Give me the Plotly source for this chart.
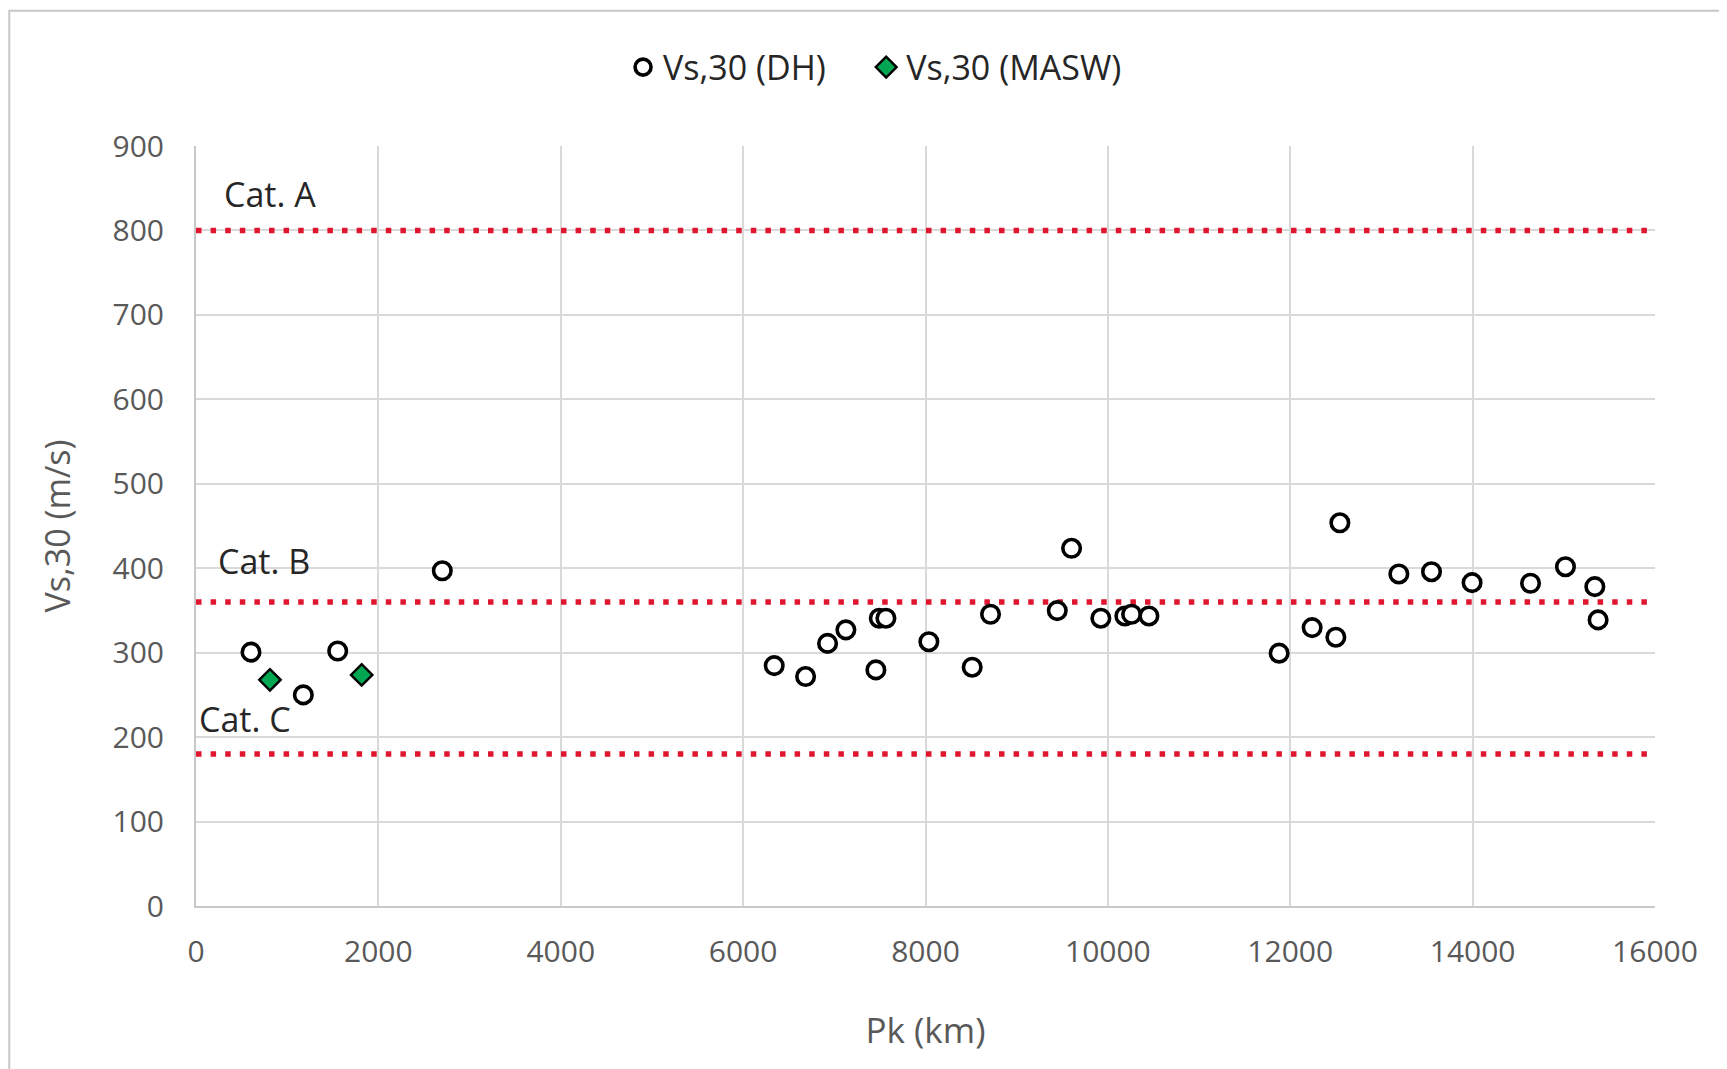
import plotly.graph_objects as go

# ---- data ----
dh_x = [603, 1177, 1554, 2701, 6341, 6685, 6926, 7127, 7456, 7493, 7566, 8037, 8512,
        8713, 9445, 9602, 9923, 10186, 10260, 10450, 11878, 12240, 12500, 12544,
        13191, 13549, 13994, 14635, 15018, 15340, 15376]
dh_y = [300.6, 250, 302, 397, 284.7, 271.7, 311, 327, 279.6, 340.8, 340.8, 313, 282.8,
        345.5, 349.8, 423.6, 340.8, 343.5, 345.5, 343.5, 299.4, 329.7, 318.3, 453.8,
        393.2, 395.9, 382.9, 382.2, 401.8, 378.2, 338.8]
masw_x = [811, 1817]
masw_y = [267.8, 273.7]

cat_names = ["Cat. A", "Cat. B", "Cat. C"]
cat_limits = [800, 360, 180]
cat_label_x = [290, 214, 11]
cat_label_y = [843.5, 408.2, 222]
line_x = [0, 16000]

FONT = "Open Sans"
NB = "\u00a0"

fig = go.Figure()

for lim in cat_limits:
    fig.add_trace(go.Scatter(
        x=line_x, y=[lim, lim], mode="lines", showlegend=False, hoverinfo="skip",
        line=dict(color="#e0152e", width=5.5, dash="5.5px,9.1px"),
    ))

fig.add_trace(go.Scatter(
    x=dh_x, y=dh_y, mode="markers", name="Vs,30 (DH)" + NB * 4,
    marker=dict(symbol="circle", size=17.5, color="white",
                line=dict(color="black", width=3.6)),
))
fig.add_trace(go.Scatter(
    x=masw_x, y=masw_y, mode="markers", name="Vs,30 (MASW)",
    marker=dict(symbol="diamond", size=16.5, color="#00a651",
                line=dict(color="black", width=2.4)),
))

for name, lx, ly in zip(cat_names, cat_label_x, cat_label_y):
    fig.add_annotation(x=lx, y=ly, text=name, showarrow=False, xanchor="left",
                       yanchor="middle", font=dict(family=FONT, size=34, color="#262626"))

# outer chart frame
fig.add_shape(type="rect", xref="paper", yref="paper", x0=-0.128, x1=1.2,
              y0=-0.4, y1=1.178, line=dict(color="#c8c8c8", width=2), layer="below")

fig.update_layout(
    width=1727, height=1069,
    margin=dict(l=188, r=80, t=138, b=171, autoexpand=False),
    paper_bgcolor="white", plot_bgcolor="white",
    font=dict(family=FONT, color="#595959"),
    legend=dict(orientation="h", x=0.2927, xanchor="left", y=1.1033, yanchor="middle",
                font=dict(family=FONT, size=34, color="#262626"),
                itemwidth=30, bgcolor="rgba(0,0,0,0)"),
    showlegend=True,
)
fig.update_xaxes(
    range=[0, 16000], dtick=2000, tick0=0, tickformat="d",
    showgrid=True, gridcolor="#d9d9d9", gridwidth=1.5,
    showline=True, linecolor="#c8c8c8", linewidth=2, zeroline=False, ticks="",
    tickfont=dict(family=FONT, size=30, color="#595959"), ticklabelstandoff=18,
    title=dict(text="Pk (km)", font=dict(family=FONT, size=35, color="#595959"), standoff=48),
    automargin=False,
)
fig.update_yaxes(
    range=[0, 900], dtick=100, tick0=0, showgrid=True, gridcolor="#d9d9d9", gridwidth=1.5,
    showline=True, linecolor="#c8c8c8", linewidth=2, zeroline=False, ticks="",
    tickfont=dict(family=FONT, size=30, color="#595959"), ticklabelstandoff=24,
    title=dict(text="Vs,30 (m/s)", font=dict(family=FONT, size=34, color="#595959"), standoff=32),
    automargin=False,
)

fig.write_html("out.html")
